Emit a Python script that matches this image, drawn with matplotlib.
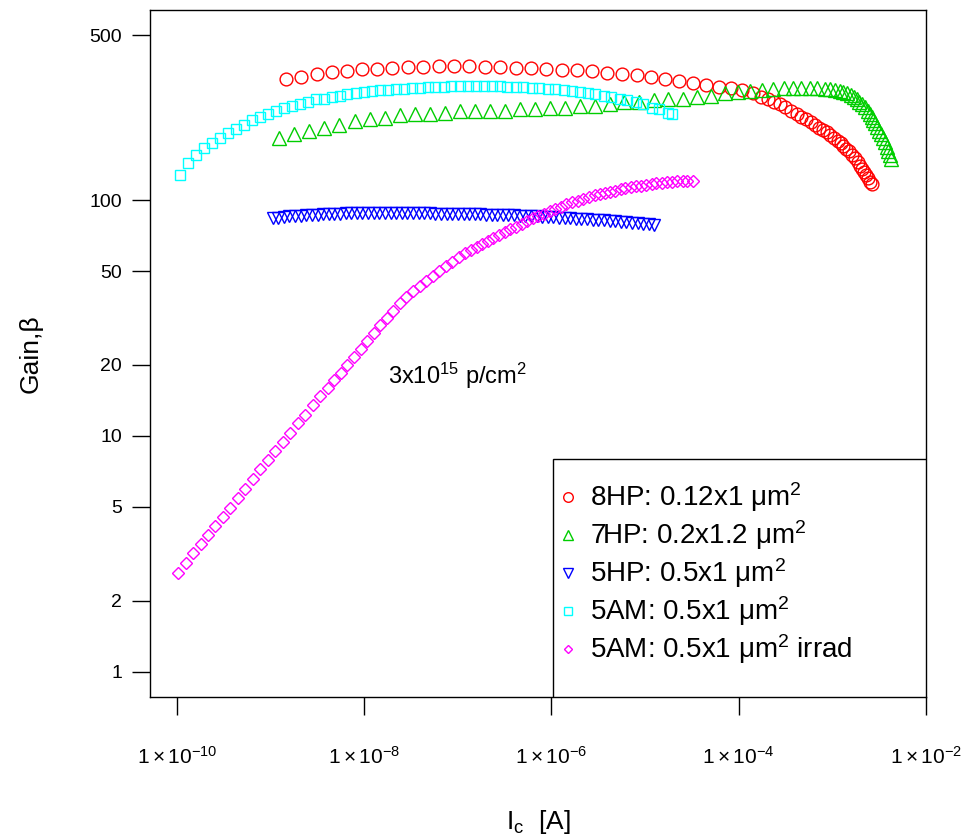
import numpy as np
import matplotlib
matplotlib.use("Agg")
import matplotlib.pyplot as plt
from matplotlib.patches import Rectangle

plt.rcParams["font.family"] = ["Liberation Sans", "DejaVu Sans"]
plt.rcParams["mathtext.fontset"] = "custom"
plt.rcParams["mathtext.rm"] = "Liberation Sans"
plt.rcParams["mathtext.it"] = "Liberation Sans:italic"
plt.rcParams["mathtext.bf"] = "Liberation Sans:bold"

# Gummel-sweep gain data, log10(Ic [A]) and beta
log_ic_8hp = [-8.84, -8.68, -8.51, -8.35, -8.19, -8.02, -7.86, -7.70, -7.53, -7.37,
              -7.20, -7.04, -6.88, -6.71, -6.55, -6.38, -6.22, -6.06, -5.89, -5.73,
              -5.57, -5.41, -5.25, -5.09, -4.94, -4.79, -4.64, -4.49, -4.35, -4.21,
              -4.08, -3.96, -3.85, -3.76, -3.69, -3.62, -3.56, -3.50, -3.44, -3.38,
              -3.33, -3.28, -3.23, -3.18, -3.14, -3.10, -3.06, -3.02, -2.98, -2.94,
              -2.91, -2.88, -2.85, -2.82, -2.79, -2.76, -2.73, -2.70, -2.68, -2.66,
              -2.64, -2.62, -2.60, -2.58]
gain_8hp = [326, 332, 342, 349, 352, 359, 359, 363, 366, 366,
            370, 370, 370, 366, 366, 363, 363, 359, 356, 356,
            352, 345, 342, 339, 332, 326, 319, 313, 307, 301,
            298, 292, 284, 275, 268, 261, 255, 248, 240, 232,
            226, 220, 214, 208, 203, 198, 194, 189, 183, 178,
            174, 170, 165, 161, 156, 151, 145, 140, 136, 132,
            128, 124, 120, 117]

log_ic_7hp = [-8.91, -8.75, -8.59, -8.43, -8.27, -8.10, -7.94, -7.78, -7.62, -7.46,
              -7.30, -7.14, -6.98, -6.82, -6.66, -6.50, -6.34, -6.18, -6.02, -5.86,
              -5.70, -5.54, -5.38, -5.22, -5.06, -4.90, -4.75, -4.60, -4.45, -4.30,
              -4.15, -4.01, -3.88, -3.75, -3.63, -3.52, -3.42, -3.33, -3.24, -3.16,
              -3.08, -3.02, -2.97, -2.92, -2.88, -2.84, -2.80, -2.77, -2.74, -2.71,
              -2.68, -2.65, -2.62, -2.60, -2.58, -2.56, -2.54, -2.52, -2.50, -2.48,
              -2.46, -2.44, -2.42, -2.40, -2.385, -2.37]
gain_7hp = [184, 191, 197, 203, 209, 216, 220, 224, 229, 231,
            233, 235, 238, 238, 240, 240, 243, 243, 245, 247,
            250, 252, 255, 260, 262, 265, 268, 270, 273, 278,
            284, 287, 291, 294, 297, 298, 299, 299, 299, 298,
            297, 295, 293, 291, 288, 284, 279, 275, 268, 262,
            255, 248, 240, 233, 226, 219, 212, 205, 197, 190,
            183, 176, 168, 161, 155, 150]

log_ic_5hp = [-8.98, -8.92, -8.86, -8.80, -8.74, -8.68, -8.62, -8.56, -8.50, -8.44,
              -8.38, -8.32, -8.26, -8.20, -8.14, -8.08, -8.02, -7.96, -7.90, -7.84,
              -7.78, -7.72, -7.66, -7.60, -7.54, -7.48, -7.42, -7.36, -7.30, -7.24,
              -7.18, -7.12, -7.06, -7.00, -6.94, -6.88, -6.82, -6.76, -6.70, -6.64,
              -6.58, -6.52, -6.46, -6.40, -6.34, -6.28, -6.22, -6.16, -6.10, -6.04,
              -5.98, -5.92, -5.86, -5.80, -5.74, -5.68, -5.62, -5.56, -5.50, -5.44,
              -5.38, -5.32, -5.26, -5.20, -5.14, -5.08, -5.02, -4.96, -4.90]
gain_5hp = [83.8, 84.3, 84.8, 85.3, 85.7, 86.0, 86.3, 86.6, 86.9, 87.1,
            87.3, 87.5, 87.7, 87.8, 87.9, 88.0, 88.0, 88.1, 88.1, 88.1,
            88.1, 88.1, 88.0, 88.0, 88.0, 87.9, 87.9, 87.8, 87.8, 87.7,
            87.6, 87.6, 87.5, 87.4, 87.3, 87.2, 87.1, 87.0, 86.9, 86.7,
            86.6, 86.4, 86.3, 86.1, 85.9, 85.7, 85.5, 85.3, 85.1, 84.9,
            84.6, 84.4, 84.1, 83.8, 83.5, 83.2, 82.9, 82.6, 82.3, 82.0,
            81.6, 81.3, 80.9, 80.6, 80.2, 79.8, 79.4, 78.9, 78.4]

log_ic_5am = [-9.97, -9.88, -9.80, -9.71, -9.63, -9.54, -9.46, -9.37, -9.29, -9.20,
              -9.11, -9.03, -8.94, -8.86, -8.77, -8.69, -8.60, -8.52, -8.43, -8.35,
              -8.26, -8.18, -8.09, -8.00, -7.92, -7.83, -7.75, -7.66, -7.58, -7.49,
              -7.41, -7.32, -7.24, -7.15, -7.07, -6.98, -6.89, -6.81, -6.72, -6.64,
              -6.55, -6.47, -6.38, -6.30, -6.21, -6.13, -6.04, -5.96, -5.87, -5.78,
              -5.70, -5.61, -5.53, -5.44, -5.36, -5.27, -5.19, -5.10, -5.02, -4.93,
              -4.85, -4.76, -4.71]
gain_5am = [128, 144, 156, 167, 175, 184, 193, 201, 209, 218,
            226, 233, 240, 247, 252, 257, 262, 268, 270, 275,
            278, 281, 284, 287, 290, 292, 292, 295, 295, 298,
            298, 301, 301, 301, 304, 304, 304, 304, 304, 304,
            304, 301, 301, 301, 298, 298, 295, 295, 292, 290,
            287, 284, 281, 278, 273, 270, 265, 260, 255, 247,
            243, 235, 233]

log_ic_5am_irr = [-9.99, -9.91, -9.83, -9.75, -9.67, -9.59, -9.51, -9.43, -9.35, -9.27,
                  -9.19, -9.11, -9.03, -8.95, -8.87, -8.79, -8.71, -8.63, -8.55, -8.47,
                  -8.39, -8.32, -8.25, -8.18, -8.11, -8.04, -7.97, -7.90, -7.83, -7.76,
                  -7.69, -7.62, -7.55, -7.48, -7.41, -7.34, -7.27, -7.20, -7.13, -7.06,
                  -6.99, -6.92, -6.86, -6.80, -6.74, -6.68, -6.62, -6.56, -6.50, -6.44,
                  -6.38, -6.32, -6.26, -6.20, -6.14, -6.08, -6.02, -5.96, -5.90, -5.84,
                  -5.78, -5.72, -5.66, -5.60, -5.54, -5.48, -5.43, -5.37, -5.32, -5.26,
                  -5.21, -5.15, -5.10, -5.04, -4.99, -4.93, -4.88, -4.82, -4.77, -4.71,
                  -4.66, -4.60, -4.55, -4.49]
gain_5am_irr = [2.62, 2.89, 3.18, 3.48, 3.80, 4.15, 4.53, 4.95, 5.43, 5.97,
                6.56, 7.23, 7.88, 8.61, 9.42, 10.3, 11.3, 12.3, 13.5, 14.7,
                16.0, 17.2, 18.5, 19.9, 21.5, 23.3, 25.2, 27.2, 29.4, 31.6,
                34.0, 36.6, 38.8, 41.1, 43.4, 45.5, 47.8, 50.0, 52.4, 54.8,
                57.2, 59.6, 61.5, 63.2, 65.2, 67.1, 69.2, 71.3, 73.1, 75.2,
                77.1, 79.3, 81.5, 83.8, 85.7, 87.7, 89.7, 91.8, 94.0, 96.2,
                97.8, 99.5, 101, 103, 105, 106, 107.4, 108.8, 109.9, 111.2,
                112.2, 113.3, 114.3, 115.3, 116.1, 117.1, 117.8, 118.6, 119.3, 119.7,
                120.2, 120.6, 120.9, 121.0]

labels = ["8HP: 0.12x1 \u03bcm$^2$",
          "7HP: 0.2x1.2 \u03bcm$^2$",
          "5HP: 0.5x1 \u03bcm$^2$",
          "5AM: 0.5x1 \u03bcm$^2$",
          "5AM: 0.5x1 \u03bcm$^2$ irrad"]

xticks = [1e-10, 1e-8, 1e-6, 1e-4, 1e-2]
xticklabels = [r"$1\times10^{-10}$", r"$1\times10^{-8}$", r"$1\times10^{-6}$",
               r"$1\times10^{-4}$", r"$1\times10^{-2}$"]
yticks = [1, 2, 5, 10, 20, 50, 100, 500]

fig = plt.figure(figsize=(9.79, 8.39), dpi=100)
ax = fig.add_axes([0.1532, 0.1693, 0.7927, 0.8188])

series = [
    (log_ic_8hp, gain_8hp, "o", "#FF0000", 9.2),
    (log_ic_7hp, gain_7hp, "^", "#00CD00", 10.5),
    (log_ic_5hp, gain_5hp, "v", "#0000FF", 9.0),
    (log_ic_5am, gain_5am, "s", "#00FFFF", 7.0),
    (log_ic_5am_irr, gain_5am_irr, "D", "#FF00FF", 6.0),
]
for (lic, g, mk, col, ms), lab in zip(series, labels):
    ax.plot(10.0 ** np.array(lic), g, linestyle="none", marker=mk, ms=ms,
            mfc="none", mec=col, mew=1.0, label=lab)

ax.set_xscale("log")
ax.set_yscale("log")
ax.set_xlim(10 ** -10.29, 10 ** -1.998)
ax.set_ylim(10 ** -0.108, 10 ** 2.807)
ax.set_xticks(xticks)
ax.set_xticklabels(xticklabels)
ax.set_yticks(yticks)
ax.set_yticklabels([str(v) for v in yticks])
ax.minorticks_off()
ax.tick_params(axis="both", direction="out", length=13, width=1.0,
               labelsize=14, pad=7)
ax.tick_params(axis="x", labelsize=15, pad=22)
for s in ax.spines.values():
    s.set_linewidth(1.0)

ax.set_xlabel("I$_\\mathrm{c}$  [A]", fontsize=19, labelpad=29)
ax.set_ylabel("Gain,\u03b2", fontsize=19, labelpad=34)

ax.text(1e-7, 18, "3x10$^{15}$ p/cm$^2$", fontsize=17, ha="center", va="center")

# legend box drawn separately so the padding can be uneven like R's
ax.add_patch(Rectangle((0.5193, 0.0), 0.4807, 0.3464, transform=ax.transAxes,
                       fill=True, facecolor="white", edgecolor="black",
                       linewidth=1.0, zorder=4))
leg = ax.legend(loc="upper left", bbox_to_anchor=(0.5258, 0.315),
                fontsize=20, frameon=False, borderpad=0, borderaxespad=0,
                markerscale=0.75, handlelength=0.7, handletextpad=0.45,
                labelspacing=0.15)
leg.set_zorder(5)

fig.savefig("out.png", dpi=100)
